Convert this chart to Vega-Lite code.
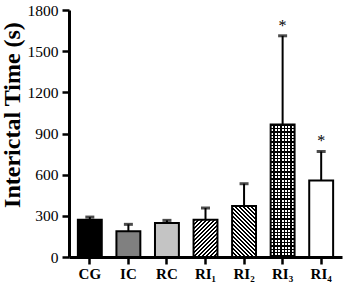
{
  "$schema": "https://vega.github.io/schema/vega-lite/v6.json",
  "autosize": "none",
  "padding": {"left": 69, "top": 10, "right": 2, "bottom": 34},
  "width": 273,
  "height": 247,
  "background": "white",
  "config": {
    "view": {"stroke": null},
    "axisY": {"labelFont": "Liberation Serif", "labelFontSize": 15.5, "labelColor": "black", "labelPadding": 4, "tickSize": 7, "tickWidth": 2.5, "tickColor": "black", "domainWidth": 3, "domainColor": "black", "grid": false, "titleFont": "Liberation Serif", "titleFontWeight": "bold", "titleFontSize": 24, "titleColor": "black", "titleAngle": -90, "titleX": -49.5, "titleY": 104.5, "titleAlign": "center", "titleBaseline": "alphabetic"},
    "axisX": {"labelAngle": 0, "labelFont": "Liberation Serif", "labelFontWeight": "bold", "labelFontSize": 15, "labelColor": "black", "labelPadding": 2, "tickSize": 7, "tickWidth": 2.5, "tickColor": "black", "domainWidth": 3, "domainColor": "black", "grid": false}
  },
  "data": {"values": [
    {"g": "CG", "mean": 272, "upper": 291, "star": ""},
    {"g": "IC", "mean": 187, "upper": 238, "star": ""},
    {"g": "RC", "mean": 247, "upper": 267, "star": ""},
    {"g": "RI₁", "mean": 272, "upper": 357, "star": ""},
    {"g": "RI₂", "mean": 371, "upper": 534, "star": ""},
    {"g": "RI₃", "mean": 965, "upper": 1612, "star": "*"},
    {"g": "RI₄", "mean": 558, "upper": 769, "star": "*"}
  ]},
  "encoding": {
    "x": {
      "field": "g", "type": "nominal", "sort": null, "title": null,
      "scale": {"domain": ["CG", "IC", "RC", "RI₁", "RI₂", "RI₃", "RI₄"], "paddingInner": 0.38, "paddingOuter": 0.23}
    }
  },
  "layer": [
    {
      "transform": [{"filter": "indexof(['CG','IC','RC','RI₄'], datum.g) >= 0"}],
      "mark": {"type": "bar", "stroke": "black", "strokeWidth": 2},
      "encoding": {
        "y": {
          "field": "mean", "type": "quantitative", "title": "Interictal Time (s)",
          "scale": {"domain": [0, 1800], "nice": false},
          "axis": {"values": [0, 300, 600, 900, 1200, 1500, 1800], "format": "d"}
        },
        "fill": {"field": "g", "type": "nominal", "legend": null, "scale": {"domain": ["CG", "IC", "RC", "RI₄"], "range": ["#000000", "#808080", "#c4c4c4", "#ffffff"]}}
      }
    },
    {
      "transform": [{"filter": "datum.g === 'RI₁'"}],
      "mark": {"type": "bar", "stroke": "black", "strokeWidth": 2, "fill": {"gradient": "linear", "x1": 0, "y1": 0, "x2": 0.973, "y2": 1.52, "stops": [
        {"offset": 0, "color": "#000"}, {"offset": 0.025, "color": "#000"}, {"offset": 0.025, "color": "#fff"}, {"offset": 0.05, "color": "#fff"},
        {"offset": 0.05, "color": "#000"}, {"offset": 0.075, "color": "#000"}, {"offset": 0.075, "color": "#fff"}, {"offset": 0.1, "color": "#fff"},
        {"offset": 0.1, "color": "#000"}, {"offset": 0.125, "color": "#000"}, {"offset": 0.125, "color": "#fff"}, {"offset": 0.15, "color": "#fff"},
        {"offset": 0.15, "color": "#000"}, {"offset": 0.175, "color": "#000"}, {"offset": 0.175, "color": "#fff"}, {"offset": 0.2, "color": "#fff"},
        {"offset": 0.2, "color": "#000"}, {"offset": 0.225, "color": "#000"}, {"offset": 0.225, "color": "#fff"}, {"offset": 0.25, "color": "#fff"},
        {"offset": 0.25, "color": "#000"}, {"offset": 0.275, "color": "#000"}, {"offset": 0.275, "color": "#fff"}, {"offset": 0.3, "color": "#fff"},
        {"offset": 0.3, "color": "#000"}, {"offset": 0.325, "color": "#000"}, {"offset": 0.325, "color": "#fff"}, {"offset": 0.35, "color": "#fff"},
        {"offset": 0.35, "color": "#000"}, {"offset": 0.375, "color": "#000"}, {"offset": 0.375, "color": "#fff"}, {"offset": 0.4, "color": "#fff"},
        {"offset": 0.4, "color": "#000"}, {"offset": 0.425, "color": "#000"}, {"offset": 0.425, "color": "#fff"}, {"offset": 0.45, "color": "#fff"},
        {"offset": 0.45, "color": "#000"}, {"offset": 0.475, "color": "#000"}, {"offset": 0.475, "color": "#fff"}, {"offset": 0.5, "color": "#fff"},
        {"offset": 0.5, "color": "#000"}, {"offset": 0.525, "color": "#000"}, {"offset": 0.525, "color": "#fff"}, {"offset": 0.55, "color": "#fff"},
        {"offset": 0.55, "color": "#000"}, {"offset": 0.575, "color": "#000"}, {"offset": 0.575, "color": "#fff"}, {"offset": 0.6, "color": "#fff"},
        {"offset": 0.6, "color": "#000"}, {"offset": 0.625, "color": "#000"}, {"offset": 0.625, "color": "#fff"}, {"offset": 0.65, "color": "#fff"},
        {"offset": 0.65, "color": "#000"}, {"offset": 0.675, "color": "#000"}, {"offset": 0.675, "color": "#fff"}, {"offset": 0.7, "color": "#fff"},
        {"offset": 0.7, "color": "#000"}, {"offset": 0.725, "color": "#000"}, {"offset": 0.725, "color": "#fff"}, {"offset": 0.75, "color": "#fff"},
        {"offset": 0.75, "color": "#000"}, {"offset": 0.775, "color": "#000"}, {"offset": 0.775, "color": "#fff"}, {"offset": 0.8, "color": "#fff"},
        {"offset": 0.8, "color": "#000"}, {"offset": 0.825, "color": "#000"}, {"offset": 0.825, "color": "#fff"}, {"offset": 0.85, "color": "#fff"}
      ]}},
      "encoding": {"y": {"field": "mean", "type": "quantitative"}}
    },
    {
      "transform": [{"filter": "datum.g === 'RI₂'"}],
      "mark": {"type": "bar", "stroke": "black", "strokeWidth": 2, "fill": {"gradient": "linear", "x1": 0, "y1": 1, "x2": 0.6045, "y2": -0.287, "stops": [
        {"offset": 0, "color": "#000"}, {"offset": 0.025, "color": "#000"}, {"offset": 0.025, "color": "#fff"}, {"offset": 0.05, "color": "#fff"},
        {"offset": 0.05, "color": "#000"}, {"offset": 0.075, "color": "#000"}, {"offset": 0.075, "color": "#fff"}, {"offset": 0.1, "color": "#fff"},
        {"offset": 0.1, "color": "#000"}, {"offset": 0.125, "color": "#000"}, {"offset": 0.125, "color": "#fff"}, {"offset": 0.15, "color": "#fff"},
        {"offset": 0.15, "color": "#000"}, {"offset": 0.175, "color": "#000"}, {"offset": 0.175, "color": "#fff"}, {"offset": 0.2, "color": "#fff"},
        {"offset": 0.2, "color": "#000"}, {"offset": 0.225, "color": "#000"}, {"offset": 0.225, "color": "#fff"}, {"offset": 0.25, "color": "#fff"},
        {"offset": 0.25, "color": "#000"}, {"offset": 0.275, "color": "#000"}, {"offset": 0.275, "color": "#fff"}, {"offset": 0.3, "color": "#fff"},
        {"offset": 0.3, "color": "#000"}, {"offset": 0.325, "color": "#000"}, {"offset": 0.325, "color": "#fff"}, {"offset": 0.35, "color": "#fff"},
        {"offset": 0.35, "color": "#000"}, {"offset": 0.375, "color": "#000"}, {"offset": 0.375, "color": "#fff"}, {"offset": 0.4, "color": "#fff"},
        {"offset": 0.4, "color": "#000"}, {"offset": 0.425, "color": "#000"}, {"offset": 0.425, "color": "#fff"}, {"offset": 0.45, "color": "#fff"},
        {"offset": 0.45, "color": "#000"}, {"offset": 0.475, "color": "#000"}, {"offset": 0.475, "color": "#fff"}, {"offset": 0.5, "color": "#fff"},
        {"offset": 0.5, "color": "#000"}, {"offset": 0.525, "color": "#000"}, {"offset": 0.525, "color": "#fff"}, {"offset": 0.55, "color": "#fff"},
        {"offset": 0.55, "color": "#000"}, {"offset": 0.575, "color": "#000"}, {"offset": 0.575, "color": "#fff"}, {"offset": 0.6, "color": "#fff"},
        {"offset": 0.6, "color": "#000"}, {"offset": 0.625, "color": "#000"}, {"offset": 0.625, "color": "#fff"}, {"offset": 0.65, "color": "#fff"},
        {"offset": 0.65, "color": "#000"}, {"offset": 0.675, "color": "#000"}, {"offset": 0.675, "color": "#fff"}, {"offset": 0.7, "color": "#fff"},
        {"offset": 0.7, "color": "#000"}, {"offset": 0.725, "color": "#000"}, {"offset": 0.725, "color": "#fff"}, {"offset": 0.75, "color": "#fff"},
        {"offset": 0.75, "color": "#000"}, {"offset": 0.775, "color": "#000"}, {"offset": 0.775, "color": "#fff"}, {"offset": 0.8, "color": "#fff"},
        {"offset": 0.8, "color": "#000"}, {"offset": 0.825, "color": "#000"}, {"offset": 0.825, "color": "#fff"}, {"offset": 0.85, "color": "#fff"},
        {"offset": 0.85, "color": "#000"}, {"offset": 0.875, "color": "#000"}, {"offset": 0.875, "color": "#fff"}, {"offset": 0.9, "color": "#fff"},
        {"offset": 0.9, "color": "#000"}, {"offset": 0.925, "color": "#000"}, {"offset": 0.925, "color": "#fff"}, {"offset": 0.95, "color": "#fff"},
        {"offset": 0.95, "color": "#000"}, {"offset": 0.975, "color": "#000"}, {"offset": 0.975, "color": "#fff"}, {"offset": 1, "color": "#fff"}
      ]}},
      "encoding": {"y": {"field": "mean", "type": "quantitative"}}
    },
    {
      "transform": [{"filter": "datum.g === 'RI₃'"}],
      "mark": {"type": "bar", "fill": {"gradient": "linear", "x1": 0, "y1": 0, "x2": 0, "y2": 1.012, "stops": [
        {"offset": 0, "color": "#000"}, {"offset": 0.01, "color": "#000"}, {"offset": 0.01, "color": "#fff"}, {"offset": 0.025, "color": "#fff"},
        {"offset": 0.025, "color": "#000"}, {"offset": 0.035, "color": "#000"}, {"offset": 0.035, "color": "#fff"}, {"offset": 0.05, "color": "#fff"},
        {"offset": 0.05, "color": "#000"}, {"offset": 0.06, "color": "#000"}, {"offset": 0.06, "color": "#fff"}, {"offset": 0.075, "color": "#fff"},
        {"offset": 0.075, "color": "#000"}, {"offset": 0.085, "color": "#000"}, {"offset": 0.085, "color": "#fff"}, {"offset": 0.1, "color": "#fff"},
        {"offset": 0.1, "color": "#000"}, {"offset": 0.11, "color": "#000"}, {"offset": 0.11, "color": "#fff"}, {"offset": 0.125, "color": "#fff"},
        {"offset": 0.125, "color": "#000"}, {"offset": 0.135, "color": "#000"}, {"offset": 0.135, "color": "#fff"}, {"offset": 0.15, "color": "#fff"},
        {"offset": 0.15, "color": "#000"}, {"offset": 0.16, "color": "#000"}, {"offset": 0.16, "color": "#fff"}, {"offset": 0.175, "color": "#fff"},
        {"offset": 0.175, "color": "#000"}, {"offset": 0.185, "color": "#000"}, {"offset": 0.185, "color": "#fff"}, {"offset": 0.2, "color": "#fff"},
        {"offset": 0.2, "color": "#000"}, {"offset": 0.21, "color": "#000"}, {"offset": 0.21, "color": "#fff"}, {"offset": 0.225, "color": "#fff"},
        {"offset": 0.225, "color": "#000"}, {"offset": 0.235, "color": "#000"}, {"offset": 0.235, "color": "#fff"}, {"offset": 0.25, "color": "#fff"},
        {"offset": 0.25, "color": "#000"}, {"offset": 0.26, "color": "#000"}, {"offset": 0.26, "color": "#fff"}, {"offset": 0.275, "color": "#fff"},
        {"offset": 0.275, "color": "#000"}, {"offset": 0.285, "color": "#000"}, {"offset": 0.285, "color": "#fff"}, {"offset": 0.3, "color": "#fff"},
        {"offset": 0.3, "color": "#000"}, {"offset": 0.31, "color": "#000"}, {"offset": 0.31, "color": "#fff"}, {"offset": 0.325, "color": "#fff"},
        {"offset": 0.325, "color": "#000"}, {"offset": 0.335, "color": "#000"}, {"offset": 0.335, "color": "#fff"}, {"offset": 0.35, "color": "#fff"},
        {"offset": 0.35, "color": "#000"}, {"offset": 0.36, "color": "#000"}, {"offset": 0.36, "color": "#fff"}, {"offset": 0.375, "color": "#fff"},
        {"offset": 0.375, "color": "#000"}, {"offset": 0.385, "color": "#000"}, {"offset": 0.385, "color": "#fff"}, {"offset": 0.4, "color": "#fff"},
        {"offset": 0.4, "color": "#000"}, {"offset": 0.41, "color": "#000"}, {"offset": 0.41, "color": "#fff"}, {"offset": 0.425, "color": "#fff"},
        {"offset": 0.425, "color": "#000"}, {"offset": 0.435, "color": "#000"}, {"offset": 0.435, "color": "#fff"}, {"offset": 0.45, "color": "#fff"},
        {"offset": 0.45, "color": "#000"}, {"offset": 0.46, "color": "#000"}, {"offset": 0.46, "color": "#fff"}, {"offset": 0.475, "color": "#fff"},
        {"offset": 0.475, "color": "#000"}, {"offset": 0.485, "color": "#000"}, {"offset": 0.485, "color": "#fff"}, {"offset": 0.5, "color": "#fff"},
        {"offset": 0.5, "color": "#000"}, {"offset": 0.51, "color": "#000"}, {"offset": 0.51, "color": "#fff"}, {"offset": 0.525, "color": "#fff"},
        {"offset": 0.525, "color": "#000"}, {"offset": 0.535, "color": "#000"}, {"offset": 0.535, "color": "#fff"}, {"offset": 0.55, "color": "#fff"},
        {"offset": 0.55, "color": "#000"}, {"offset": 0.56, "color": "#000"}, {"offset": 0.56, "color": "#fff"}, {"offset": 0.575, "color": "#fff"},
        {"offset": 0.575, "color": "#000"}, {"offset": 0.585, "color": "#000"}, {"offset": 0.585, "color": "#fff"}, {"offset": 0.6, "color": "#fff"},
        {"offset": 0.6, "color": "#000"}, {"offset": 0.61, "color": "#000"}, {"offset": 0.61, "color": "#fff"}, {"offset": 0.625, "color": "#fff"},
        {"offset": 0.625, "color": "#000"}, {"offset": 0.635, "color": "#000"}, {"offset": 0.635, "color": "#fff"}, {"offset": 0.65, "color": "#fff"},
        {"offset": 0.65, "color": "#000"}, {"offset": 0.66, "color": "#000"}, {"offset": 0.66, "color": "#fff"}, {"offset": 0.675, "color": "#fff"},
        {"offset": 0.675, "color": "#000"}, {"offset": 0.685, "color": "#000"}, {"offset": 0.685, "color": "#fff"}, {"offset": 0.7, "color": "#fff"},
        {"offset": 0.7, "color": "#000"}, {"offset": 0.71, "color": "#000"}, {"offset": 0.71, "color": "#fff"}, {"offset": 0.725, "color": "#fff"},
        {"offset": 0.725, "color": "#000"}, {"offset": 0.735, "color": "#000"}, {"offset": 0.735, "color": "#fff"}, {"offset": 0.75, "color": "#fff"},
        {"offset": 0.75, "color": "#000"}, {"offset": 0.76, "color": "#000"}, {"offset": 0.76, "color": "#fff"}, {"offset": 0.775, "color": "#fff"},
        {"offset": 0.775, "color": "#000"}, {"offset": 0.785, "color": "#000"}, {"offset": 0.785, "color": "#fff"}, {"offset": 0.8, "color": "#fff"},
        {"offset": 0.8, "color": "#000"}, {"offset": 0.81, "color": "#000"}, {"offset": 0.81, "color": "#fff"}, {"offset": 0.825, "color": "#fff"},
        {"offset": 0.825, "color": "#000"}, {"offset": 0.835, "color": "#000"}, {"offset": 0.835, "color": "#fff"}, {"offset": 0.85, "color": "#fff"},
        {"offset": 0.85, "color": "#000"}, {"offset": 0.86, "color": "#000"}, {"offset": 0.86, "color": "#fff"}, {"offset": 0.875, "color": "#fff"},
        {"offset": 0.875, "color": "#000"}, {"offset": 0.885, "color": "#000"}, {"offset": 0.885, "color": "#fff"}, {"offset": 0.9, "color": "#fff"},
        {"offset": 0.9, "color": "#000"}, {"offset": 0.91, "color": "#000"}, {"offset": 0.91, "color": "#fff"}, {"offset": 0.925, "color": "#fff"},
        {"offset": 0.925, "color": "#000"}, {"offset": 0.935, "color": "#000"}, {"offset": 0.935, "color": "#fff"}, {"offset": 0.95, "color": "#fff"},
        {"offset": 0.95, "color": "#000"}, {"offset": 0.96, "color": "#000"}, {"offset": 0.96, "color": "#fff"}, {"offset": 0.975, "color": "#fff"},
        {"offset": 0.975, "color": "#000"}, {"offset": 0.985, "color": "#000"}, {"offset": 0.985, "color": "#fff"}, {"offset": 1, "color": "#fff"}
      ]}},
      "encoding": {"y": {"field": "mean", "type": "quantitative"}}
    },
    {
      "transform": [{"filter": "datum.g === 'RI₃'"}],
      "mark": {"type": "bar", "stroke": "black", "strokeWidth": 2, "fill": {"gradient": "linear", "x1": 0, "y1": 0, "x2": 1, "y2": 0, "stops": [
        {"offset": 0, "color": "#000"}, {"offset": 0.0286, "color": "#000"}, {"offset": 0.0286, "color": "rgba(0,0,0,0)"}, {"offset": 0.1143, "color": "rgba(0,0,0,0)"},
        {"offset": 0.1143, "color": "#000"}, {"offset": 0.1714, "color": "#000"}, {"offset": 0.1714, "color": "rgba(0,0,0,0)"}, {"offset": 0.2571, "color": "rgba(0,0,0,0)"},
        {"offset": 0.2571, "color": "#000"}, {"offset": 0.3143, "color": "#000"}, {"offset": 0.3143, "color": "rgba(0,0,0,0)"}, {"offset": 0.4, "color": "rgba(0,0,0,0)"},
        {"offset": 0.4, "color": "#000"}, {"offset": 0.4571, "color": "#000"}, {"offset": 0.4571, "color": "rgba(0,0,0,0)"}, {"offset": 0.5429, "color": "rgba(0,0,0,0)"},
        {"offset": 0.5429, "color": "#000"}, {"offset": 0.6, "color": "#000"}, {"offset": 0.6, "color": "rgba(0,0,0,0)"}, {"offset": 0.6857, "color": "rgba(0,0,0,0)"},
        {"offset": 0.6857, "color": "#000"}, {"offset": 0.7429, "color": "#000"}, {"offset": 0.7429, "color": "rgba(0,0,0,0)"}, {"offset": 0.8286, "color": "rgba(0,0,0,0)"},
        {"offset": 0.8286, "color": "#000"}, {"offset": 0.8857, "color": "#000"}, {"offset": 0.8857, "color": "rgba(0,0,0,0)"}, {"offset": 0.9714, "color": "rgba(0,0,0,0)"},
        {"offset": 0.9714, "color": "#000"}, {"offset": 1, "color": "#000"}
      ]}},
      "encoding": {"y": {"field": "mean", "type": "quantitative"}}
    },
    {
      "mark": {"type": "rule", "color": "black", "strokeWidth": 2},
      "encoding": {
        "y": {"field": "mean", "type": "quantitative"},
        "y2": {"field": "upper"}
      }
    },
    {
      "mark": {"type": "tick", "color": "black", "size": 9, "thickness": 3},
      "encoding": {
        "y": {"field": "upper", "type": "quantitative"}
      }
    },
    {
      "transform": [{"filter": "datum.star !== ''"}],
      "mark": {"type": "text", "font": "Liberation Serif", "fontSize": 16, "color": "black", "baseline": "alphabetic", "dy": -5},
      "encoding": {
        "y": {"field": "upper", "type": "quantitative"},
        "text": {"field": "star"}
      }
    }
  ]
}
